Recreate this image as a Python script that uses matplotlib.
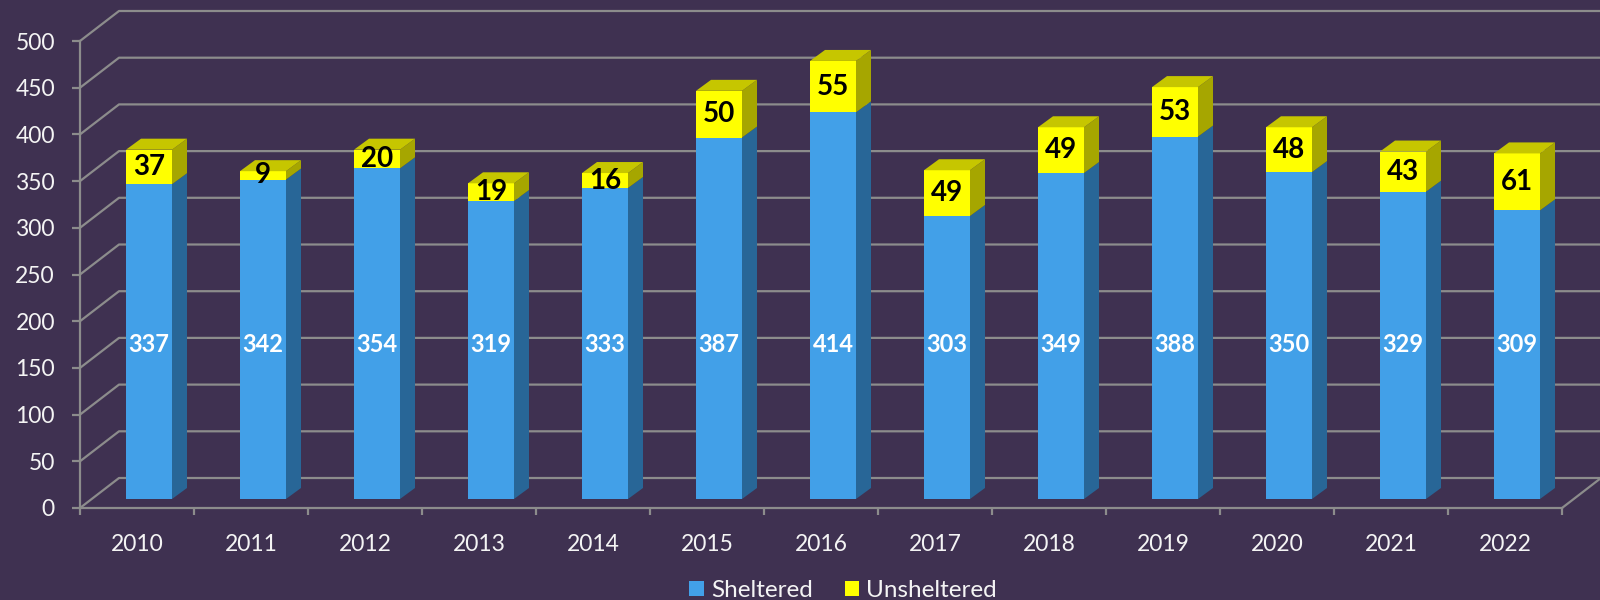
"""Sheltered / unsheltered counts by year, Excel-style 3D stacked columns."""
import matplotlib
matplotlib.use("Agg")
import matplotlib.pyplot as plt
from matplotlib.patches import Polygon, Patch
import numpy as np

years = ["2010", "2011", "2012", "2013", "2014", "2015", "2016",
         "2017", "2018", "2019", "2020", "2021", "2022"]
sheltered = [337, 342, 354, 319, 333, 387, 414, 303, 349, 388, 350, 329, 309]
unsheltered = [37, 9, 20, 19, 16, 50, 55, 49, 49, 53, 48, 43, 61]
y_ticks = list(range(0, 501, 50))

BG = "#3F3151"
GRID = "#8C8C8C"
TXT = "#F4F4F4"
BLUE_FRONT, BLUE_SIDE = "#42A0E8", "#286697"
YEL_FRONT, YEL_TOP, YEL_SIDE = "#FFFF00", "#C6C600", "#A6A600"

# pixel geometry -> data units (114 px per category, 0.934 px per unit)
PX_X = 1482 / 13
PX_Y = 467 / 500
WALL_D = (39 / PX_X, 30 / PX_Y)    # depth of the back wall
BAR_OFF = (12 / PX_X, 9 / PX_Y)    # bar front face set back from the front
BAR_D = (15 / PX_X, 11 / PX_Y)     # bar depth
BAR_W = 46 / PX_X

plt.rcParams["font.family"] = ["Lato", "DejaVu Sans"]

fig = plt.figure(figsize=(16, 6), dpi=100, facecolor=BG)
ax = fig.add_axes([80 / 1600, (600 - 508) / 600, 1482 / 1600, 467 / 600])
ax.set_facecolor(BG)
ax.set_xlim(-0.5, len(years) - 0.5)
ax.set_ylim(0, 500)
ax.patch.set_alpha(0)

x0, x1 = -0.5, len(years) - 0.5
dx, dy = WALL_D

# walls: back gridlines + left wall diagonals
for v in y_ticks:
    ax.plot([x0, x0 + dx, x1 + dx + 0.05], [v, v + dy, v + dy],
            color=GRID, lw=1.6, clip_on=False, zorder=1)
# floor right edge
ax.plot([x1, x1 + dx], [0, dy], color=GRID, lw=1.6, clip_on=False, zorder=1)

x = np.arange(len(years))
sh = np.array(sheltered)
un = np.array(unsheltered)
tot = sh + un
ox, oy = BAR_OFF
bx, by = BAR_D
xc = x + ox

ax.bar(xc, sh, BAR_W, bottom=oy, color=BLUE_FRONT, zorder=3)
ax.bar(xc, un, BAR_W, bottom=oy + sh, color=YEL_FRONT, zorder=3)

for i in range(len(years)):
    xl, xr = xc[i] - BAR_W / 2, xc[i] + BAR_W / 2
    b0, b1, b2 = oy, oy + sh[i], oy + tot[i]
    ax.add_patch(Polygon([(xr, b0), (xr + bx, b0 + by), (xr + bx, b1 + by), (xr, b1)],
                         closed=True, facecolor=BLUE_SIDE, edgecolor="none", zorder=3))
    ax.add_patch(Polygon([(xr, b1), (xr + bx, b1 + by), (xr + bx, b2 + by), (xr, b2)],
                         closed=True, facecolor=YEL_SIDE, edgecolor="none", zorder=3))
    ax.add_patch(Polygon([(xl, b2), (xr, b2), (xr + bx, b2 + by), (xl + bx, b2 + by)],
                         closed=True, facecolor=YEL_TOP, edgecolor="none", zorder=3,
                         clip_on=False))
    ax.text(xc[i], oy + 165, str(sh[i]), ha="center", va="center",
            color="white", fontsize=17, fontweight="bold", zorder=5)
    ax.text(xc[i], oy + sh[i] + un[i] / 2, str(un[i]), ha="center", va="center",
            color="black", fontsize=20, fontweight="bold", zorder=5)

# axes lines / ticks
for s in ("top", "right"):
    ax.spines[s].set_visible(False)
for s in ("left", "bottom"):
    ax.spines[s].set_color(GRID)
    ax.spines[s].set_linewidth(1.6)
ax.set_yticks(y_ticks)
ax.set_yticklabels([str(v) for v in y_ticks])
ax.tick_params(axis="y", length=6, width=1.6, color=GRID, labelcolor=TXT,
               labelsize=16.5, pad=12)
ax.set_xticks(x)
ax.set_xticklabels(years)
ax.tick_params(axis="x", which="major", length=0, labelcolor=TXT, labelsize=16.5, pad=19)
ax.set_xticks(np.arange(len(years) + 1) - 0.5, minor=True)
ax.tick_params(axis="x", which="minor", length=5, width=1.6, color=GRID)

handles = [Patch(facecolor=BLUE_FRONT, label="Sheltered"),
           Patch(facecolor=YEL_FRONT, label="Unsheltered")]
leg = fig.legend(handles=handles, loc="lower center", bbox_to_anchor=(0.527, -0.038),
                 ncol=2, frameon=False, fontsize=17.5, handlelength=0.6,
                 handleheight=0.6, handletextpad=0.3, columnspacing=1.3)
for t in leg.get_texts():
    t.set_color(TXT)

fig.savefig("out.png", dpi=100, facecolor=BG)
